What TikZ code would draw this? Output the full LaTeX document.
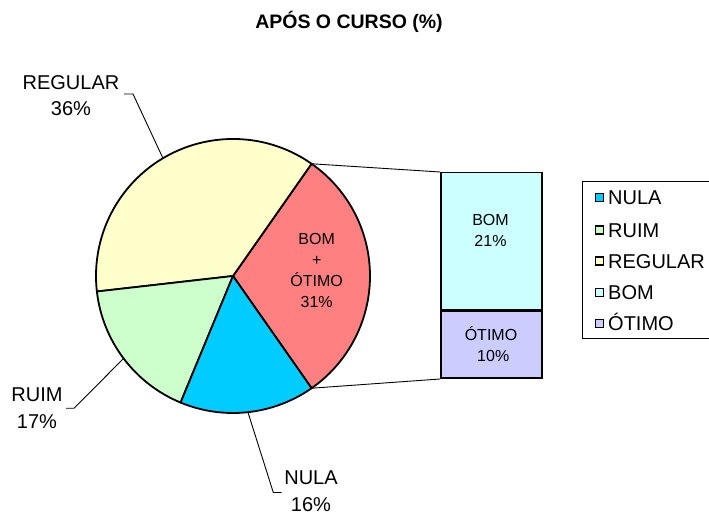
\documentclass[tikz,border=0pt]{standalone}
\usepackage{fontspec}
\setmainfont{Liberation Sans}
\usetikzlibrary{positioning,calc}
\definecolor{nula}{HTML}{00CCFF}
\definecolor{ruim}{HTML}{CCFFCC}
\definecolor{regular}{HTML}{FFFFCC}
\definecolor{bomotimo}{HTML}{FF8080}
\definecolor{bom}{HTML}{CCFFFF}
\definecolor{otimo}{HTML}{CCCCFF}
\tikzstyle{slice} = [draw=black, line width=1.8pt, line join=round]
\tikzstyle{leader} = [draw=black, line width=0.9pt]
\tikzstyle{lbl} = [align=center, inner sep=0pt, font=\fontsize{20}{26.5}\selectfont]
\tikzstyle{inlbl} = [align=center, inner sep=0pt, font=\fontsize{16}{21.3}\selectfont]
\tikzstyle{barpart} = [draw=black, line width=1.5pt, minimum width=101pt, inner sep=0pt]
\tikzstyle{key} = [draw=black, line width=1.2pt, minimum size=8pt, inner sep=0pt]
\tikzstyle{keytext} = [anchor=west, inner sep=0pt, text height=14.6pt, text depth=0pt, font=\fontsize{20}{24}\selectfont]
\newcommand{\pieslice}[3]{\filldraw[slice, fill=#1] (c) -- ++(#2:137) arc[start angle=#2, end angle=#3, radius=137] -- cycle;}
\newcommand{\legentry}[4]{\node [key, fill=#2] (k#1) at (599.5,#3) {};
  \node [keytext] (t#1) at (608,#3) {#4};}

\begin{document}
\begin{tikzpicture}[x=1pt, y=1pt]
  \useasboundingbox (0,0) rectangle (709,514);
  \clip (0,0) rectangle (709,514);
  \node [font=\bfseries\fontsize{19.5}{23}\selectfont] (title) at (349,492) {APÓS O CURSO (\%)};

  % pie
  \coordinate (c) at (233,238);
  \pieslice{bomotimo}{-55}{55}
  \pieslice{regular}{55}{186.5}
  \pieslice{ruim}{186.5}{247.5}
  \pieslice{nula}{247.5}{305}
  \node [inlbl] (bomotimo) at (316.7,243.5) {BOM\\+\\ÓTIMO\\31\%};

  % labels
  \coordinate (eregular) at ($(c)+(120.75:137)$);
  \coordinate (eruim) at ($(c)+(217:137)$);
  \coordinate (enula) at ($(c)+(-83.75:137)$);
  \node [lbl] (lregular) at (71,418.5) {REGULAR\\36\%};
  \node [lbl] (lruim) at (37,106) {RUIM\\17\%};
  \node [lbl] (lnula) at (311,23) {NULA\\16\%};
  \coordinate (bregular) at (133,420);
  \coordinate (bruim) at (74,105.7);
  \coordinate (bnula) at (273.3,21.5);
  \draw [leader] (eregular) -- (bregular) -- ++(-9,0);
  \draw [leader] (eruim) -- (bruim) -- ++(-8,0);
  \draw [leader] (enula) -- (bnula) -- ++(8.4,0);

  % bar
  \node [barpart, fill=bom, minimum height=137pt, anchor=north west] (bom) at (440,342) {};
  \node [barpart, fill=otimo, minimum height=67pt, anchor=north west] (otimo) at (bom.south west) {};
  \node [inlbl] (tbom) at (490.5,283.5) {BOM\\21\%};
  \node [inlbl] (totimo) at (491,170) {ÓTIMO\\\ 10\%};
  \coordinate (ptop) at ($(c)+(55:137)$);
  \coordinate (pbot) at ($(c)+(-55:137)$);
  \draw [leader] (ptop) -- (bom.north west);
  \draw [leader] (pbot) -- (otimo.south west);

  % legend
  \draw [line width=0.9pt] (582.7,176) rectangle (715,332.3);
  \legentry{nula}{nula}{316.7}{NULA}
  \legentry{ruim}{ruim}{284}{RUIM}
  \legentry{regular}{regular}{253}{REGULAR}
  \legentry{bom}{bom}{221.7}{BOM}
  \legentry{otimo}{otimo}{190.7}{ÓTIMO}
\end{tikzpicture}
\end{document}
